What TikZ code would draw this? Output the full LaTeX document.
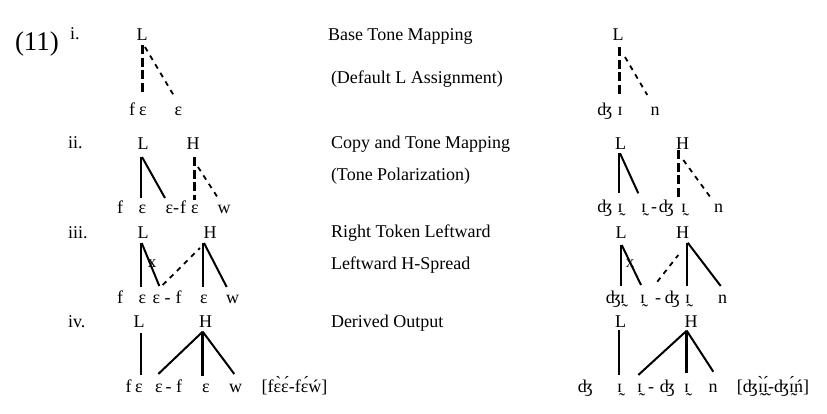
\documentclass[tikz,border=0pt]{standalone}
\usepackage{fontspec}
\setmainfont{Liberation Serif}
\begin{document}
\begin{tikzpicture}[x=1pt,y=-1pt,
  every node/.style={inner sep=0pt,outer sep=0pt,anchor=base,font=\fontsize{18pt}{21pt}\selectfont},
  lbl/.style={anchor=base west},
  big/.style={anchor=base west,font=\fontsize{27pt}{30pt}\selectfont},
  xmark/.style={anchor=center,font=\fontsize{17pt}{19pt}\selectfont},
  ln/.style={line width=2pt},
  thk/.style={line width=3pt},
  tdash/.style={line width=3pt,dash pattern=on 9pt off 3.5pt},
  ndash/.style={line width=1.8pt,dash pattern=on 5pt off 5pt}]
\useasboundingbox (0,0) rectangle (827,413);

% labels
\node[big] (num) at (15,50) {(11)};
\node[lbl] (li) at (70,39) {i.};
\node[lbl] (lii) at (68,148) {ii.};
\node[lbl] (liii) at (68,238) {iii.};
\node[lbl] (liv) at (68,327) {iv.};

% middle texts
\node[lbl] (t1) at (328,40) {Base Tone Mapping};
\node[lbl] (t2) at (331,83) {(Default L Assignment)};
\node[lbl] (t3) at (331,148) {Copy and Tone Mapping};
\node[lbl] (t4) at (331,180) {(Tone Polarization)};
\node[lbl] (t5) at (331,237) {Right Token Leftward};
\node[lbl] (t6) at (331,269) {Leftward H-Spread};
\node[lbl] (t7) at (331,327) {Derived Output};

% ---------- row i left
\node (Li) at (142,40) {L};
\node (fi) at (132,115) {f};
\node (ei1) at (143,115) {ɛ};
\node (ei2) at (178.5,115) {ɛ};
\draw[tdash] ([shift={(0,5)}]Li.base) -- ([shift={(-1,-22)}]ei1.base);
\draw[ndash] ([shift={(3,7)}]Li.base) -- ([shift={(-5,-20)}]ei2.base);

% ---------- row i right
\node (Lr1) at (618,40) {L};
\node (dr1) at (605,115) {ʤ};
\node (ir1) at (620,115) {ɪ};
\node (nr1) at (655,115) {n};
\draw[tdash] ([shift={(1.3,7)}]Lr1.base) -- ([shift={(-0.7,-20)}]ir1.base);
\draw[ndash] ([shift={(7,17)}]Lr1.base) -- ([shift={(-7.7,-20)}]nr1.base);

% ---------- row ii left
\node (Lii) at (143,149) {L};
\node (Hii) at (193,149) {H};
\node (fii1) at (120,213) {f};
\node (eii1) at (142.5,213) {ɛ};
\node (eii2) at (169.5,213) {ɛ};
\node (hii) at (176,213) {-};
\node (fii2) at (183,213) {f};
\node (eii3) at (195,213) {ɛ};
\node (wii) at (224,213) {w};
\draw[ln] ([shift={(-2,8)}]Lii.base) -- ([shift={(-1.5,-15)}]eii1.base);
\draw[ln] ([shift={(-1,8)}]Lii.base) -- ([shift={(-4.5,-15)}]eii2.base);
\draw[tdash] ([shift={(1.3,8)}]Hii.base) -- ([shift={(-0.7,-13)}]eii3.base);
\draw[ndash] ([shift={(5,18)}]Hii.base) -- ([shift={(-6,-15)}]wii.base);

% ---------- row ii right
\node (Lr2) at (620.5,149) {L};
\node (Hr2) at (682.5,149) {H};
\node (dr21) at (605,212) {ʤ};
\node (ir21) at (620,212) {ɪ̰};
\node (ir22) at (643.5,212) {ɪ̰};
\node (hr2) at (654,212) {-};
\node (dr22) at (666.5,212) {ʤ};
\node (ir23) at (683.5,212) {ɪ̰};
\node (nr2) at (718.5,212) {n};
\draw[ln] ([shift={(-1.2,4.3)}]Lr2.base) -- ([shift={(-0.7,-18.7)}]ir21.base);
\draw[ln] ([shift={(-0.5,4.3)}]Lr2.base) -- ([shift={(-5.2,-18.7)}]ir22.base);
\draw[tdash] ([shift={(-4.2,1)}]Hr2.base) -- ([shift={(-5.2,-15.3)}]ir23.base);
\draw[ndash] ([shift={(0.8,11)}]Hr2.base) -- ([shift={(-8.5,-15.3)}]nr2.base);

% ---------- row iii left
\node (Liii) at (143,238) {L};
\node (Hiii) at (210,238) {H};
\node (fiii1) at (120,303) {f};
\node (eiii1) at (142.5,303) {ɛ};
\node (eiii2) at (156.5,303) {ɛ};
\node (hiii) at (167.5,303) {-};
\node (fiii2) at (178.5,303) {f};
\node (eiii3) at (204,303) {ɛ};
\node (wiii) at (232.5,303) {w};
\node[xmark] (xiii) at (152,264) {x};
\draw[ln] ([shift={(-2,5)}]Liii.base) -- ([shift={(-1.5,-16)}]eiii1.base);
\draw[ln] ([shift={(-1.3,5)}]Liii.base) -- ([shift={(2.8,-17)}]eiii2.base);
\draw[ndash] ([shift={(6.2,-18)}]eiii2.base) -- ([shift={(-10,10)}]Hiii.base);
\draw[ln] ([shift={(-6.7,5)}]Hiii.base) -- ([shift={(-0.7,-16)}]eiii3.base);
\draw[ln] ([shift={(-6,5)}]Hiii.base) -- ([shift={(-5.8,-16)}]wiii.base);

% ---------- row iii right
\node (Lr3) at (621,238) {L};
\node (Hr3) at (682.5,238) {H};
\node (dr31) at (613.5,303) {ʤ};
\node (ir31) at (622.5,303) {ɪ̰};
\node (ir32) at (642.5,303) {ɪ̰};
\node (hr3) at (658,303) {-};
\node (dr32) at (672.5,303) {ʤ};
\node (ir33) at (687.5,303) {ɪ̰};
\node (nr3) at (722.5,303) {n};
\node[xmark] (xr3) at (630,264) {x};
\draw[ln] ([shift={(-0.3,7)}]Lr3.base) -- ([shift={(-1.8,-17)}]ir31.base);
\draw[ln] ([shift={(0.7,7)}]Lr3.base) -- ([shift={(-1.5,-18)}]ir32.base);
\draw[ndash] ([shift={(14.8,-21.3)}]ir32.base) -- ([shift={(-4.2,17)}]Hr3.base);
\draw[ln] ([shift={(4.2,5.3)}]Hr3.base) -- ([shift={(-0.8,-17)}]ir33.base);
\draw[ln] ([shift={(5.2,4.7)}]Hr3.base) -- ([shift={(-1.8,-17)}]nr3.base);

% ---------- row iv left
\node (Liv) at (139,327) {L};
\node (Hiv) at (205.5,327) {H};
\node (fiv1) at (128.5,392) {f};
\node (eiv1) at (139,392) {ɛ};
\node (eiv2) at (159,392) {ɛ};
\node (hiv) at (168.5,392) {-};
\node (fiv2) at (179,392) {f};
\node (eiv3) at (206,392) {ɛ};
\node (wiv) at (235.5,392) {w};
\node (oiv) at (294.5,392) {[fɛ̀ɛ́-fɛ́ẃ]};
\draw[ln] ([shift={(2,6)}]Liv.base) -- ([shift={(2,-17)}]eiv1.base);
\draw[ln] ([shift={(-2.8,4.7)}]Hiv.base) -- ([shift={(-0.7,-18)}]eiv2.base);
\draw[thk] ([shift={(-2.8,4.7)}]Hiv.base) -- ([shift={(-3.3,-16)}]eiv3.base);
\draw[ln] ([shift={(-2.8,4.7)}]Hiv.base) -- ([shift={(-1.2,-18)}]wiv.base);

% ---------- row iv right
\node (Lr4) at (620.5,327) {L};
\node (Hr4) at (691,327) {H};
\node (dr41) at (585.5,392) {ʤ};
\node (ir41) at (619.5,392) {ɪ̰};
\node (ir42) at (639.5,392) {ɪ̰};
\node (hr4) at (651,392) {-};
\node (dr42) at (667.5,392) {ʤ};
\node (ir43) at (686.5,392) {ɪ̰};
\node (nr4) at (713,392) {n};
\node (or4) at (773,392) {[ʤɪ̰̀ɪ̰́-ʤɪ̰́ń]};
\draw[ln] ([shift={(-1.2,3)}]Lr4.base) -- ([shift={(-0.2,-17)}]ir41.base);
\draw[ln] ([shift={(-4.3,3.7)}]Hr4.base) -- ([shift={(-1.2,-17)}]ir42.base);
\draw[thk] ([shift={(-4.3,3.7)}]Hr4.base) -- ([shift={(0.2,-18.7)}]ir43.base);
\draw[ln] ([shift={(-4.3,3.7)}]Hr4.base) -- ([shift={(0.3,-20.3)}]nr4.base);
\end{tikzpicture}
\end{document}
